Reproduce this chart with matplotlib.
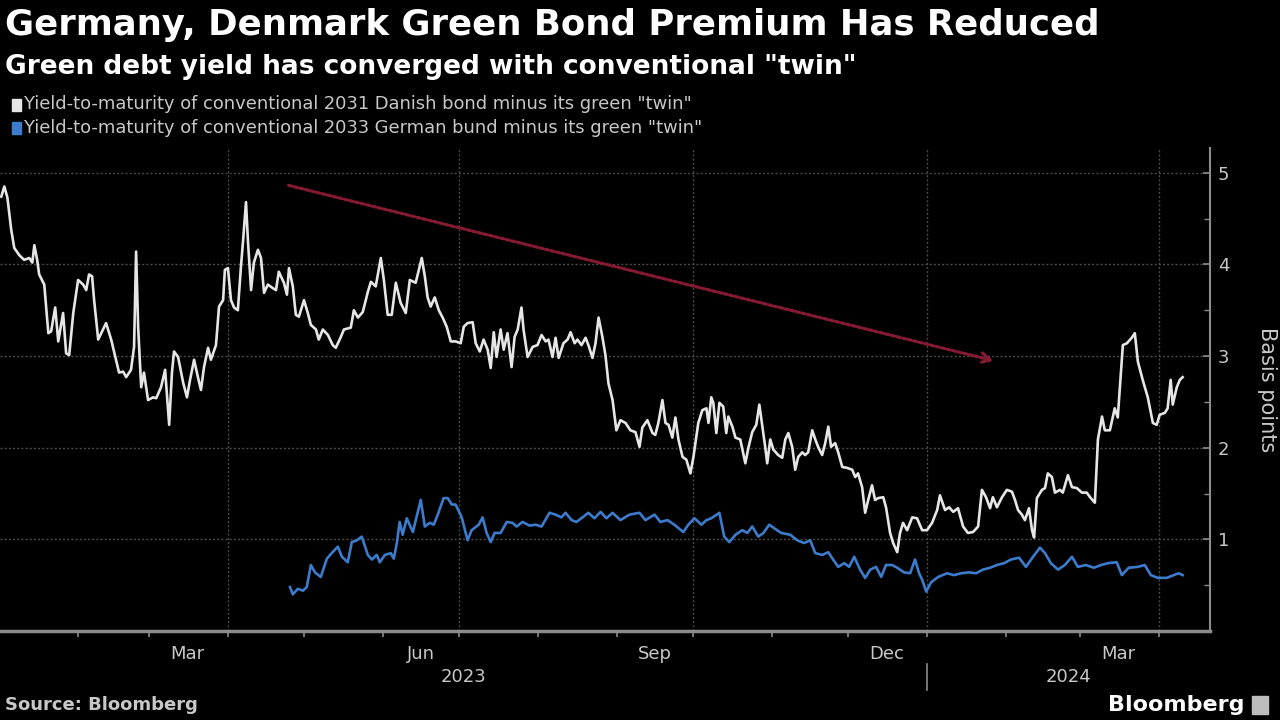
import matplotlib as mpl
mpl.use('Agg')
from matplotlib import pyplot as plt
import matplotlib.dates as mdates
import matplotlib.transforms as mtransforms
import numpy as np
import pandas as pd

# days since 2023-01-01 and spread in basis points
dk_days = [1.0, 2.2, 3.4, 4.9, 6.1, 8.1, 10.0, 12.0, 13.2, 14.0, 15.1, 15.9, 17.9, 19.5, 20.6,
           22.2, 23.4, 25.3, 26.5, 27.7, 29.3, 31.2, 33.2, 34.4, 35.5, 36.7, 37.5, 39.1, 40.3,
           42.2, 44.2, 46.1, 47.3, 48.9, 50.1, 52.0, 53.2, 54.0, 54.8, 56.0, 57.1, 58.7, 60.7,
           61.9, 63.8, 65.4, 67.0, 68.1, 68.9, 70.5, 72.5, 74.0, 75.2, 76.8, 78.3, 79.5, 80.7,
           82.3, 83.4, 85.4, 86.6, 88.2, 88.9, 90.1, 91.3, 92.5, 94.0, 95.2, 96.0, 97.2, 98.0,
           99.2, 100.3, 101.9, 103.1, 104.3, 105.8, 107.8, 109.0, 110.1, 112.1, 113.3, 114.1,
           115.6, 116.8, 118.0, 120.0, 121.5, 122.7, 124.7, 125.8, 127.4, 129.4, 131.3, 132.5,
           134.5, 135.7, 138.4, 139.6, 141.2, 143.1, 145.1, 146.3, 148.2, 150.2, 151.4, 152.9,
           154.5, 156.1, 158.0, 160.0, 161.6, 163.9, 166.3, 167.5, 168.6, 169.8, 171.4, 173.0,
           174.5, 176.1, 177.7, 179.6, 181.6, 182.8, 184.3, 186.3, 187.5, 189.1, 190.6, 192.2,
           193.4, 194.6, 195.7, 197.3, 198.5, 200.0, 201.6, 202.8, 204.0, 205.5, 206.3, 207.9,
           209.9, 211.8, 213.4, 215.0, 216.1, 217.7, 218.9, 220.1, 222.0, 223.6, 224.8, 226.4,
           227.5, 229.1, 230.7, 231.8, 233.4, 234.6, 235.8, 237.3, 238.5, 239.7, 241.3, 242.8,
           244.4, 246.4, 248.3, 250.3, 251.9, 253.0, 255.0, 257.0, 258.1, 259.3, 260.9, 262.1,
           263.3, 264.8, 266.0, 267.2, 268.8, 270.3, 271.9, 273.1, 275.0, 276.6, 278.2, 279.0,
           280.1, 280.9, 282.1, 283.3, 284.8, 286.0, 286.8, 288.4, 289.6, 291.5, 293.5, 294.7,
           296.2, 297.8, 299.0, 300.2, 301.3, 302.1, 303.3, 304.5, 306.4, 308.0, 309.2, 310.4,
           311.9, 313.1, 314.3, 315.9, 317.0, 318.2, 319.8, 321.0, 322.1, 323.7, 324.9, 326.1,
           327.2, 328.8, 330.0, 331.6, 333.5, 335.5, 336.7, 337.8, 339.4, 340.6, 341.8, 343.3,
           344.5, 345.7, 347.7, 348.8, 350.4, 351.6, 353.2, 354.3, 355.5, 357.1, 359.1, 361.0,
           363.0, 364.9, 366.9, 368.9, 370.0, 372.0, 373.6, 375.2, 377.1, 379.1, 381.0, 383.0,
           385.0, 386.5, 388.1, 389.7, 390.8, 392.4, 394.4, 396.3, 398.3, 399.5, 400.7, 402.2,
           403.4, 405.0, 406.2, 407.0, 408.1, 410.1, 411.3, 412.4, 414.0, 415.2, 417.2, 418.3,
           420.3, 421.9, 423.8, 425.8, 427.7, 429.3, 430.9, 432.1, 433.7, 434.8, 436.8, 438.7,
           439.9, 441.9, 443.5, 445.4, 446.6, 447.8, 449.7, 451.7, 453.7, 455.2, 456.4, 458.4,
           459.5, 460.7, 461.5, 463.1, 464.3, 465.4]
dk_bp = [4.74, 4.85, 4.73, 4.38, 4.18, 4.10, 4.05, 4.07, 4.02, 4.21, 4.05, 3.89, 3.78, 3.25, 3.27,
         3.53, 3.16, 3.47, 3.03, 3.01, 3.47, 3.83, 3.78, 3.72, 3.89, 3.87, 3.61, 3.18, 3.25,
         3.36, 3.18, 2.96, 2.82, 2.83, 2.77, 2.85, 3.10, 4.14, 3.32, 2.66, 2.82, 2.52, 2.55,
         2.54, 2.66, 2.85, 2.25, 2.82, 3.05, 2.99, 2.71, 2.55, 2.74, 2.96, 2.77, 2.63, 2.88,
         3.09, 2.96, 3.12, 3.54, 3.61, 3.94, 3.96, 3.61, 3.53, 3.50, 3.97, 4.24, 4.68, 4.24,
         3.72, 4.02, 4.16, 4.07, 3.69, 3.78, 3.74, 3.72, 3.92, 3.80, 3.67, 3.96,
         3.76, 3.45, 3.43, 3.61, 3.47, 3.34, 3.29, 3.18, 3.29, 3.23, 3.12, 3.09,
         3.21, 3.29, 3.31, 3.50, 3.42, 3.48, 3.70, 3.81, 3.76, 4.07, 3.83, 3.45,
         3.45, 3.80, 3.58, 3.47, 3.83, 3.80, 4.07, 3.87, 3.64, 3.54, 3.64, 3.50,
         3.42, 3.32, 3.16, 3.16, 3.14, 3.32, 3.36, 3.37, 3.14, 3.05, 3.18, 3.07,
         2.87, 3.26, 2.99, 3.29, 3.07, 3.25, 2.88, 3.21, 3.29, 3.53, 3.29, 2.99,
         3.10, 3.12, 3.23, 3.16, 3.18, 2.99, 3.20, 2.98, 3.14, 3.18, 3.26, 3.14,
         3.18, 3.12, 3.20, 3.12, 2.98, 3.14, 3.42, 3.21, 3.01, 2.70, 2.52, 2.19,
         2.30, 2.27, 2.19, 2.17, 2.01, 2.22, 2.30, 2.16, 2.14, 2.27, 2.52, 2.27,
         2.25, 2.11, 2.33, 2.09, 1.90, 1.87, 1.72, 1.90, 2.27, 2.41, 2.43, 2.27,
         2.55, 2.49, 2.16, 2.49, 2.45, 2.16, 2.34, 2.23, 2.11, 2.09, 1.83, 2.00,
         2.17, 2.25, 2.47, 2.23, 2.01, 1.83, 2.09, 1.98, 1.92, 1.89, 2.09, 2.16,
         2.01, 1.76, 1.90, 1.95, 1.92, 1.95, 2.19, 2.09, 2.01, 1.92, 2.05, 2.23,
         2.01, 2.05, 1.95, 1.79, 1.78, 1.76, 1.68, 1.72, 1.57, 1.29, 1.43, 1.59,
         1.43, 1.45, 1.46, 1.35, 1.07, 0.96, 0.86, 1.07, 1.18, 1.10, 1.24, 1.23,
         1.10, 1.10, 1.18, 1.32, 1.48, 1.32, 1.35, 1.30, 1.34, 1.14, 1.07, 1.08,
         1.14, 1.54, 1.46, 1.34, 1.46, 1.35, 1.46, 1.54, 1.52, 1.43, 1.32, 1.27,
         1.21, 1.34, 1.10, 1.02, 1.45, 1.54, 1.56, 1.72, 1.68, 1.51, 1.54, 1.51,
         1.70, 1.57, 1.56, 1.51, 1.51, 1.45, 1.40, 2.09, 2.34, 2.19, 2.19, 2.43,
         2.33, 3.12, 3.14, 3.20, 3.25, 2.94, 2.74, 2.55, 2.27, 2.25, 2.36, 2.38,
         2.43, 2.74, 2.47, 2.66, 2.74, 2.77]

de_days = [114.5, 115.6, 117.6, 119.6, 121.1, 122.7, 124.3, 126.6, 129.0, 130.9, 133.3, 134.9,
           137.2, 138.8, 140.8, 142.7, 145.1, 146.7, 148.6, 149.8, 151.8, 154.1, 155.3, 156.5,
           157.6, 158.8, 160.4, 162.8, 165.9, 167.5, 169.4, 171.0, 172.6, 174.9, 176.5, 178.1,
           179.6, 182.0, 184.3, 185.9, 188.7, 190.2, 191.8, 193.4, 194.9, 197.3, 199.7, 202.0,
           203.6, 205.9, 208.7, 211.0, 213.4, 216.5, 218.9, 221.2, 222.8, 225.2, 227.1, 229.5,
           231.8, 234.2, 236.6, 238.9, 241.3, 244.4, 248.0, 251.9, 254.2, 257.8, 260.1, 262.9,
           265.6, 269.1, 271.1, 273.5, 276.2, 278.2, 280.1, 283.3, 285.2, 287.2, 289.6, 292.3,
           294.3, 296.2, 298.6, 300.6, 302.9, 304.9, 307.6, 311.2, 313.9, 316.6, 319.0, 321.0,
           323.7, 326.1, 328.0, 330.0, 332.4, 334.3, 336.3, 338.6, 340.6, 342.6, 344.9, 346.9,
           348.8, 351.2, 353.2, 355.9, 358.3, 360.2, 361.8, 363.0, 364.6, 366.5, 369.3, 372.8,
           375.5, 378.3, 381.4, 384.2, 386.9, 389.7, 392.4, 395.2, 397.9, 401.1, 403.8, 406.6,
           409.3, 411.3, 413.6, 416.4, 419.1, 421.9, 424.2, 427.4, 430.5, 433.3, 436.0, 439.5,
           441.5, 444.2, 447.8, 450.5, 452.9, 455.6, 459.2, 461.9, 463.9, 465.4]
de_bp = [0.48, 0.40, 0.46, 0.44, 0.48, 0.72, 0.64, 0.59, 0.79, 0.85, 0.92, 0.81,
         0.75, 0.97, 0.99, 1.03, 0.83, 0.78, 0.83, 0.75, 0.83, 0.85, 0.79, 0.96,
         1.19, 1.05, 1.23, 1.08, 1.43, 1.14, 1.18, 1.16, 1.27, 1.45, 1.45, 1.38,
         1.38, 1.24, 0.99, 1.10, 1.16, 1.24, 1.07, 0.97, 1.07, 1.07, 1.19, 1.18,
         1.14, 1.19, 1.15, 1.16, 1.14, 1.29, 1.27, 1.24, 1.29, 1.21, 1.19, 1.24,
         1.29, 1.23, 1.30, 1.23, 1.29, 1.21, 1.27, 1.29, 1.21, 1.27, 1.19, 1.21,
         1.16, 1.08, 1.16, 1.23, 1.16, 1.21, 1.23, 1.29, 1.03, 0.97, 1.05, 1.10,
         1.07, 1.14, 1.03, 1.07, 1.16, 1.12, 1.07, 1.05, 0.99, 0.96, 0.99, 0.85,
         0.83, 0.86, 0.78, 0.70, 0.74, 0.70, 0.81, 0.67, 0.58, 0.67, 0.70, 0.59,
         0.72, 0.72, 0.69, 0.64, 0.63, 0.78, 0.63, 0.56, 0.43, 0.53, 0.59, 0.63,
         0.61, 0.63, 0.64, 0.63, 0.67, 0.69, 0.72, 0.74, 0.78, 0.80, 0.70, 0.81,
         0.91, 0.85, 0.74, 0.67, 0.72, 0.81, 0.70, 0.72, 0.69, 0.72, 0.74, 0.75,
         0.61, 0.69, 0.70, 0.72, 0.61, 0.58, 0.58, 0.61, 0.63, 0.61]

# trend arrow (days, bp)
arrow_start = (112.9, 4.87)
arrow_end = (392.4, 2.94)

legend_labels = ['Yield-to-maturity of conventional 2031 Danish bond minus its green "twin"',
                 'Yield-to-maturity of conventional 2033 German bund minus its green "twin"']
title = 'Germany, Denmark Green Bond Premium Has Reduced'
subtitle = 'Green debt yield has converged with conventional "twin"'

base = pd.Timestamp('2023-01-01')
def to_dates(days):
    return base + pd.to_timedelta(np.array(days), unit='D')

bg = '#000000'
white_c = '#e6e6e6'
blue_c = '#3d7ccc'
grid_c = '#4a4a4a'
axis_c = '#8c8c8c'
text_c = '#c8c8c8'

fig = plt.figure(figsize=(12.8, 7.2), dpi=100, facecolor=bg)
ax = fig.add_axes([0.0, 0.1236, 0.945, 0.6708], facecolor=bg)

ax.plot(to_dates(dk_days), dk_bp, color=white_c, lw=1.9, zorder=3)
ax.plot(to_dates(de_days), de_bp, color=blue_c, lw=1.9, zorder=3)

s = to_dates([arrow_start[0]])[0]
e = to_dates([arrow_end[0]])[0]
ax.annotate('', xy=(mdates.date2num(e), arrow_end[1]),
            xytext=(mdates.date2num(s), arrow_start[1]),
            arrowprops=dict(arrowstyle='->,head_length=0.7,head_width=0.35',
                            color='#861a32', lw=2.3, linestyle=(0, (1, 0.8))),
            zorder=4)

ax.set_xlim(pd.Timestamp('2023-01-01 12:00'), pd.Timestamp('2024-04-21'))
ax.set_ylim(0, 5.27)

# y axis on the right
ax.yaxis.tick_right()
ax.set_yticks([1, 2, 3, 4, 5])
ax.set_yticks(np.arange(0.5, 5.01, 1.0), minor=True)
ax.tick_params(axis='y', which='major', direction='in', length=5, width=1.2,
               colors=axis_c, labelcolor=text_c, labelsize=13, pad=6)
ax.tick_params(axis='y', which='minor', direction='in', length=4, width=1.0, colors=axis_c)
ax.yaxis.set_label_position('right')
ax.set_ylabel('Basis points', color=text_c, fontsize=15, rotation=270, labelpad=34)

# x axis: month ticks, quarter labels at mid-month
ax.xaxis.set_major_locator(mdates.MonthLocator())
ax.xaxis.set_major_formatter(plt.NullFormatter())
ax.xaxis.set_minor_locator(mdates.MonthLocator(bymonth=[3, 6, 9, 12], bymonthday=16))
ax.xaxis.set_minor_formatter(mdates.DateFormatter('%b'))
ax.tick_params(axis='x', which='major', direction='out', length=4, width=1.2, colors=axis_c)
ax.tick_params(axis='x', which='minor', length=0, labelcolor=text_c, labelsize=13, pad=10)

# grid
for q in ['2023-04-01', '2023-07-01', '2023-10-01', '2024-01-01', '2024-04-01']:
    ax.axvline(pd.Timestamp(q), color=grid_c, lw=1.0, ls=(0, (1.5, 1.5)), zorder=1)
for yv in [1, 2, 3, 4, 5]:
    ax.axhline(yv, color=grid_c, lw=1.0, ls=(0, (1.5, 1.5)), zorder=1)

for side in ['left', 'top']:
    ax.spines[side].set_visible(False)
ax.spines['bottom'].set_color(axis_c)
ax.spines['bottom'].set_linewidth(2.5)
ax.spines['right'].set_color(axis_c)
ax.spines['right'].set_linewidth(1.5)

# year labels under the axis
trans = mtransforms.blended_transform_factory(ax.transData, ax.transAxes)
x0 = mdates.date2num(pd.Timestamp('2023-01-01 12:00'))
x1 = mdates.date2num(pd.Timestamp('2024-01-01'))
x2 = mdates.date2num(pd.Timestamp('2024-04-21'))
ax.text((x0 + x1) / 2, -0.095, '2023', transform=trans, ha='center', va='center',
        color=text_c, fontsize=13)
ax.text((x1 + x2) / 2, -0.095, '2024', transform=trans, ha='center', va='center',
        color=text_c, fontsize=13)
ax.plot([x1, x1], [-0.068, -0.122], transform=trans, color=axis_c, lw=1.2, clip_on=False)

# titles
fig.text(0.004, 0.965, title, color='white', fontsize=25.6, fontweight='bold', va='center')
fig.text(0.004, 0.907, subtitle, color='white', fontsize=19, fontweight='bold', va='center')

# legend
for i, (lab, c) in enumerate(zip(legend_labels, [white_c, blue_c])):
    yy = 0.855 - i * 0.033
    fig.patches.append(plt.Rectangle((0.0095, yy - 0.0085), 0.0068, 0.0165,
                                     transform=fig.transFigure, color=c, figure=fig))
    fig.text(0.0185, yy, lab, color=text_c, fontsize=12.9, va='center')

# footer
fig.text(0.004, 0.021, 'Source: Bloomberg', color=text_c, fontsize=13, fontweight='bold',
         va='center')
fig.text(0.972, 0.021, 'Bloomberg', color='white', fontsize=16, fontweight='bold',
         va='center', ha='right')
fig.patches.append(plt.Rectangle((0.978, 0.008), 0.013, 0.026, transform=fig.transFigure,
                                 color='#bdbdbd', figure=fig))

fig.savefig('out.png', dpi=100, facecolor=bg)
